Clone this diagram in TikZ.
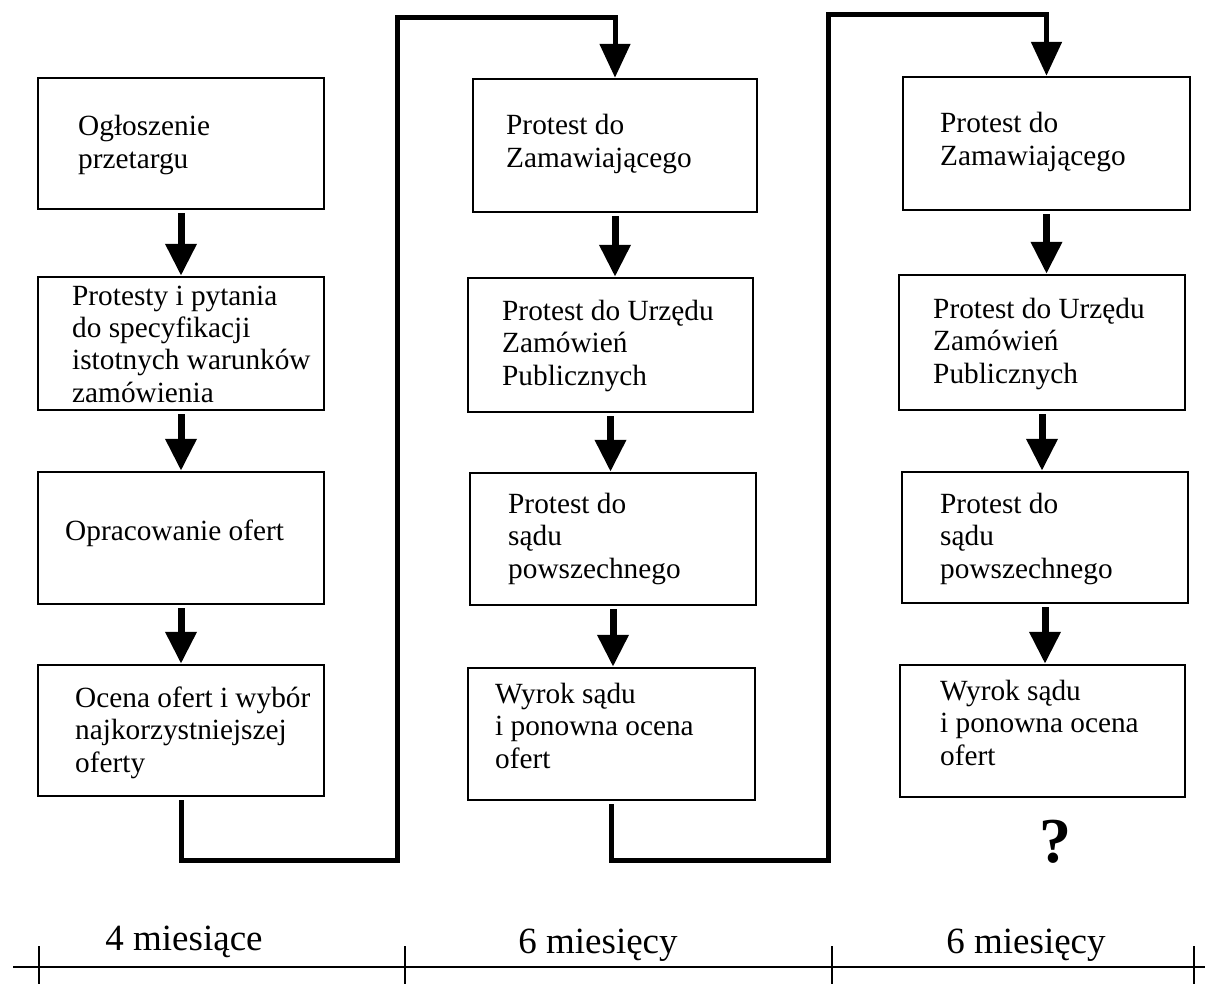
\documentclass[tikz,border=0pt]{standalone}
\usepackage{fontspec}
\setmainfont{Liberation Serif}
\usetikzlibrary{arrows.meta}

\tikzset{
  box/.style={draw, line width=2.5pt, inner sep=0pt},
  txt/.style={anchor=base west, inner sep=0pt, align=left, font=\fontsize{29.3}{32.3}\selectfont},
  flow/.style={line width=7pt, -{Triangle[width=30pt,length=32pt]}},
  link/.style={line width=5pt, -{Triangle[width=30pt,length=34pt]}},
  period/.style={anchor=base, inner sep=0pt, font=\fontsize{37}{40}\selectfont}
}

\begin{document}
\begin{tikzpicture}[x=1pt, y=-1pt]
  \useasboundingbox (0,0) rectangle (1208,985);

  % pierwsza kolumna
  \node (b11) [box, minimum width=286, minimum height=131] at (181,143.5) {};
  \node (b12) [box, minimum width=286, minimum height=133] at (181,343.5) {};
  \node (b13) [box, minimum width=286, minimum height=132] at (181,538) {};
  \node (b14) [box, minimum width=286, minimum height=131] at (181,730.5) {};
  \node (t11) [txt] at (78,168) {Ogłoszenie\\przetargu};
  \node (t12) [txt] at (72,402) {Protesty i pytania\\do specyfikacji\\istotnych warunków\\zamówienia};
  \node (t13) [txt] at (65,540) {Opracowanie ofert};
  \node (t14) [txt] at (75,772) {Ocena ofert i wybór\\najkorzystniejszej\\oferty};

  % druga kolumna
  \node (b21) [box, minimum width=284, minimum height=133] at (615,145.5) {};
  \node (b22) [box, minimum width=285, minimum height=134] at (610.5,345) {};
  \node (b23) [box, minimum width=286, minimum height=132] at (613,539) {};
  \node (b24) [box, minimum width=287, minimum height=132] at (611.5,734) {};
  \node (t21) [txt] at (506,167) {Protest do\\Zamawiającego};
  \node (t22) [txt] at (502,385) {Protest do Urzędu\\Zamówień\\Publicznych};
  \node (t23) [txt] at (508,578) {Protest do\\sądu\\powszechnego};
  \node (t24) [txt] at (495,768) {Wyrok sądu\\i ponowna ocena\\ofert};

  % trzecia kolumna
  \node (b31) [box, minimum width=287, minimum height=133] at (1046.5,143.5) {};
  \node (b32) [box, minimum width=286, minimum height=135] at (1042,342.5) {};
  \node (b33) [box, minimum width=286, minimum height=131] at (1045,537.5) {};
  \node (b34) [box, minimum width=285, minimum height=132] at (1042.5,731) {};
  \node (t31) [txt] at (940,165) {Protest do\\Zamawiającego};
  \node (t32) [txt] at (933,383) {Protest do Urzędu\\Zamówień\\Publicznych};
  \node (t33) [txt] at (940,578) {Protest do\\sądu\\powszechnego};
  \node (t34) [txt] at (940,765) {Wyrok sądu\\i ponowna ocena\\ofert};
  \node (q) [anchor=base, inner sep=0pt, font=\fontsize{64}{70}\selectfont\bfseries] at (1055,862) {?};

  % strzalki w kolumnach
  \foreach \c in {1,2,3}{
    \draw [flow] ([yshift=-3pt]b\c1.south) -- (b\c1.south |- b\c2.north);
    \draw [flow] ([yshift=-3pt]b\c2.south) -- (b\c2.south |- b\c3.north);
    \draw [flow] ([yshift=-3pt]b\c3.south) -- (b\c3.south |- b\c4.north);
  }

  % przejscia miedzy kolumnami
  \coordinate (c1) at (397,860);
  \coordinate (c2) at (397,17);
  \coordinate (c3) at (828,860);
  \coordinate (c4) at (828,14);
  \draw [link] ([yshift=-3pt]b14.south) |- (c1) -- (c2) -| (b21.north);
  \draw [link] ([yshift=-3pt]b24.south) |- (c3) -- (c4) -| (b31.north);

  % os czasu
  \draw [line width=1.3pt] (13,967) -- (1205,967);
  \foreach \x in {39,405,832,1194}
    \draw [line width=1.3pt] (\x,946) -- (\x,984);
  \node (m1) [period] at (184,950) {4 miesiące};
  \node (m2) [period] at (598,953) {6 miesięcy};
  \node (m3) [period] at (1026,953) {6 miesięcy};
\end{tikzpicture}
\end{document}
